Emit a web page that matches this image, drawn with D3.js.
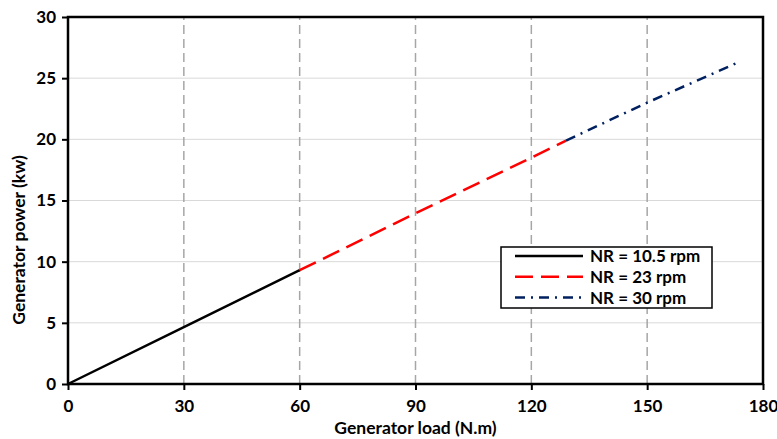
<!DOCTYPE html>
<html>
<head>
<meta charset="utf-8">
<script src="https://cdn.jsdelivr.net/npm/d3@7"></script>
<style>
  body { margin: 0; background: #fff; }
  text { font-family: Lato, "Open Sans", sans-serif; font-weight: bold; }
</style>
</head>
<body>
<div id="chart"></div>
<script>
// data
var load1 = [0, 30, 60]
var power1 = [0, 4.65, 9.3]
var load2 = [60, 90, 120, 129]
var power2 = [9.3, 13.95, 18.5, 19.9]
var load3 = [129, 150, 174]
var power3 = [19.9, 23.0, 26.35]
var seriesNames = ["NR = 10.5 rpm", "NR = 23 rpm", "NR = 30 rpm"]
var xTicks = [0, 30, 60, 90, 120, 150, 180]
var yTicks = [0, 5, 10, 15, 20, 25, 30]

var width = 777
    height = 439
    margin = {top: 17, right: 14, bottom: 55, left: 68}

var svg = d3.select("#chart")
  .append("svg")
    .attr("width", width)
    .attr("height", height)

var x = d3.scaleLinear().domain([0, 180]).range([margin.left, width - margin.right])
var y = d3.scaleLinear().domain([0, 30]).range([height - margin.bottom, margin.top])

// horizontal grid
svg.selectAll(".hgrid")
  .data(yTicks.slice(1, -1))
  .enter()
  .append("line")
    .attr("x1", x(0)).attr("x2", x(180))
    .attr("y1", d => y(d)).attr("y2", d => y(d))
    .attr("stroke", "#d9d9d9")
    .attr("stroke-width", 1)

// vertical dashed grid
svg.selectAll(".vgrid")
  .data(xTicks.slice(1, -1))
  .enter()
  .append("line")
    .attr("x1", d => x(d)).attr("x2", d => x(d))
    .attr("y1", y(0)).attr("y2", y(30))
    .attr("stroke", "#a6a6a6")
    .attr("stroke-width", 1.5)
    .attr("stroke-dasharray", "9,5")

// axes
var xAxis = svg.append("g")
  .attr("transform", "translate(0," + y(0) + ")")
  .call(d3.axisBottom(x).tickValues(xTicks).tickSize(6).tickPadding(10))
var yAxis = svg.append("g")
  .attr("transform", "translate(" + x(0) + ",0)")
  .call(d3.axisLeft(y).tickValues(yTicks).tickSize(6).tickPadding(6))

;[xAxis, yAxis].forEach(function(g) {
  g.select(".domain").remove()
  g.selectAll(".tick line").attr("stroke", "#000").attr("stroke-width", 2)
  g.selectAll(".tick text").style("font-size", "17px").attr("fill", "#000")
})

// plot frame
svg.append("rect")
  .attr("x", x(0)).attr("y", y(30))
  .attr("width", x(180) - x(0)).attr("height", y(0) - y(30))
  .attr("fill", "none")
  .attr("stroke", "#000")
  .attr("stroke-width", 2.5)

// lines
var series = [
  {xs: load1, ys: power1, color: "#000000", dash: null},
  {xs: load2, ys: power2, color: "#ff0000", dash: "18,8"},
  {xs: load3, ys: power3, color: "#002060", dash: "10,6,2,6"}
]
var line = d3.line().x(d => x(d[0])).y(d => y(d[1]))

svg.selectAll(".series")
  .data(series)
  .enter()
  .append("path")
    .attr("d", d => line(d.xs.map((v, i) => [v, d.ys[i]])))
    .attr("fill", "none")
    .attr("stroke", d => d.color)
    .attr("stroke-width", 2.5)
    .attr("stroke-dasharray", d => d.dash)

// axis titles
svg.append("text")
  .attr("x", (x(0) + x(180)) / 2)
  .attr("y", 434)
  .attr("text-anchor", "middle")
  .style("font-size", "17.5px")
  .text("Generator load (N.m)")

svg.append("text")
  .attr("transform", "translate(25,240) rotate(-90)")
  .attr("text-anchor", "middle")
  .style("font-size", "17.5px")
  .text("Generator power (kw)")

// legend
var legend = svg.append("g")
legend.append("rect")
  .attr("x", 501).attr("y", 247)
  .attr("width", 211).attr("height", 61)
  .attr("fill", "#fff")
  .attr("stroke", "#000")
  .attr("stroke-width", 1.5)

var rows = legend.selectAll(".row")
  .data(series)
  .enter()
  .append("g")
    .attr("transform", (d, i) => "translate(0," + (256 + i * 20.8) + ")")
rows.append("line")
  .attr("x1", 515).attr("x2", 583)
  .attr("stroke", d => d.color)
  .attr("stroke-width", 2.5)
  .attr("stroke-dasharray", d => d.dash)
rows.append("text")
  .attr("x", 590)
  .attr("dy", "0.35em")
  .style("font-size", "17px")
  .text((d, i) => seriesNames[i])
</script>
</body>
</html>
